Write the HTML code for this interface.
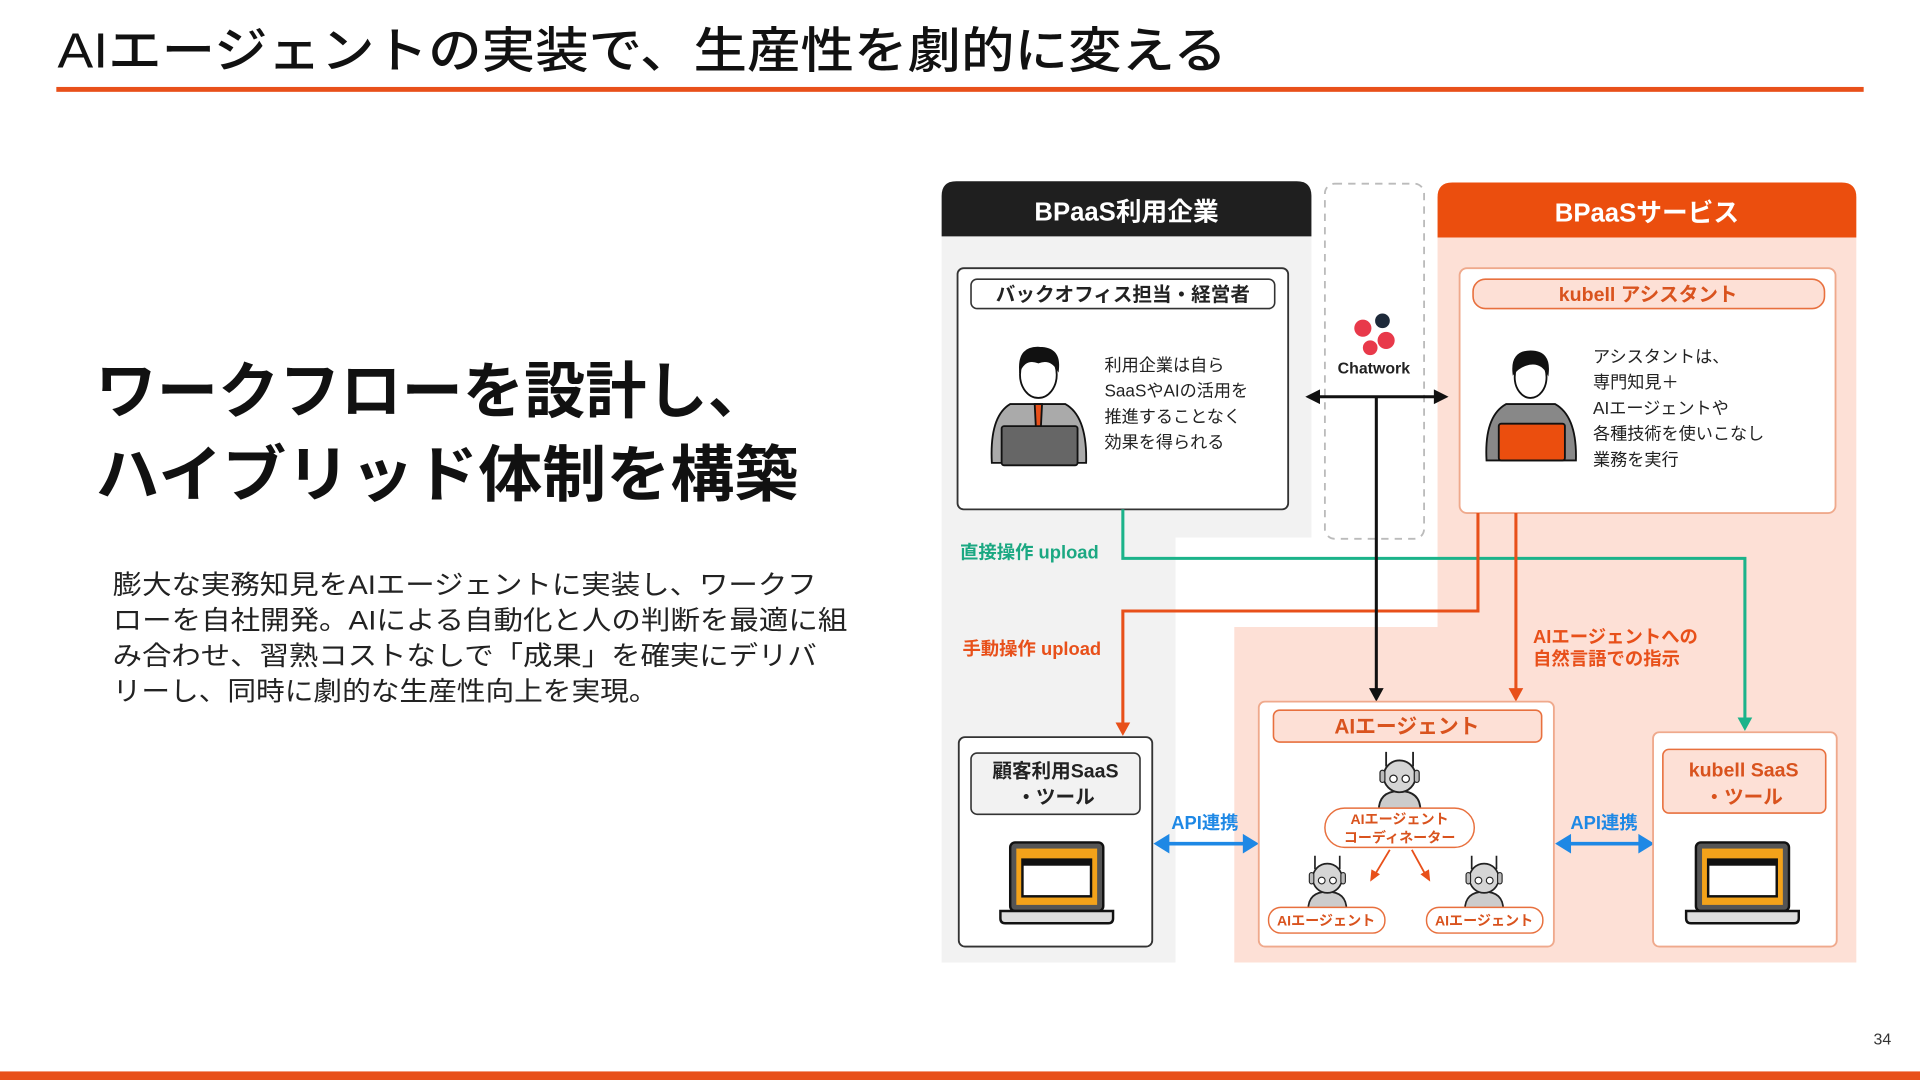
<!DOCTYPE html>
<html><head><meta charset="utf-8"><style>
html,body{margin:0;padding:0;background:#fff;}
svg{display:block;}
text{font-family:"Liberation Sans","Noto Sans CJK JP",sans-serif;}
</style></head><body>
<svg width="1920" height="1080" viewBox="0 0 1568 882" xmlns="http://www.w3.org/2000/svg">
<defs>
<symbol id="robot" viewBox="0 0 50 50">
  <line x1="14" y1="2" x2="14" y2="14" stroke="#222" stroke-width="1.5"/>
  <line x1="36" y1="2" x2="36" y2="14" stroke="#222" stroke-width="1.5"/>
  <path d="M8 50 Q8 34 25 34 Q42 34 42 50 Z" fill="#ccc" stroke="#222" stroke-width="1.5"/>
  <circle cx="25" cy="22" r="13" fill="#d5d5d5" stroke="#222" stroke-width="1.5"/>
  <rect x="9" y="17" width="4" height="10" rx="2" fill="#bbb" stroke="#222"/>
  <rect x="37" y="17" width="4" height="10" rx="2" fill="#bbb" stroke="#222"/>
  <circle cx="20" cy="24" r="3" fill="#fff" stroke="#222"/>
  <circle cx="30" cy="24" r="3" fill="#fff" stroke="#222"/>
</symbol>
<symbol id="laptop" viewBox="0 0 96 70">
  <rect x="10" y="2" width="76" height="56" rx="4" fill="#555" stroke="#111" stroke-width="2"/>
  <rect x="15" y="7" width="66" height="46" fill="#F3A21A"/>
  <rect x="20" y="16" width="56" height="30" fill="#fff" stroke="#111" stroke-width="2"/>
  <rect x="20" y="16" width="56" height="5" fill="#111"/>
  <path d="M2 58 H94 V64 Q94 68 90 68 H6 Q2 68 2 64 Z" fill="#ddd" stroke="#111" stroke-width="2"/>
</symbol>
</defs>

<!-- title -->
<text x="47" y="55" font-size="40" font-weight="500" fill="#111" textLength="955" lengthAdjust="spacingAndGlyphs">AIエージェントの実装で、生産性を劇的に変える</text>
<rect x="46" y="71" width="1476" height="4" fill="#E8501A"/>
<rect x="0" y="875" width="1568" height="7" fill="#E8501A"/>
<text x="1530" y="853" font-size="13" fill="#333">34</text>

<text x="78" y="337" font-size="50" font-weight="bold" fill="#111" textLength="550" lengthAdjust="spacingAndGlyphs">ワークフローを設計し、</text>
<text x="78" y="405" font-size="50" font-weight="bold" fill="#111" textLength="574" lengthAdjust="spacingAndGlyphs">ハイブリッド体制を構築</text>
<g font-size="22" fill="#222">
<text x="92" y="485" textLength="575" lengthAdjust="spacingAndGlyphs">膨大な実務知見をAIエージェントに実装し、ワークフ</text>
<text x="92" y="514" textLength="600" lengthAdjust="spacingAndGlyphs">ローを自社開発。AIによる自動化と人の判断を最適に組</text>
<text x="92" y="543" textLength="575" lengthAdjust="spacingAndGlyphs">み合わせ、習熟コストなしで「成果」を確実にデリバ</text>
<text x="92" y="572" textLength="445" lengthAdjust="spacingAndGlyphs">リーし、同時に劇的な生産性向上を実現。</text>
</g>

<!-- left panel -->
<polygon points="769,193 1071,193 1071,439 960,439 960,786 769,786" fill="#f2f2f2"/>
<path d="M769 193 V160 Q769 148 781 148 H1059 Q1071 148 1071 160 V193 Z" fill="#1f1f1f"/>
<text x="920" y="180" font-size="21" font-weight="bold" fill="#fff" text-anchor="middle">BPaaS利用企業</text>

<!-- right panel -->
<polygon points="1174,194 1516,194 1516,786 1008,786 1008,512 1174,512" fill="#FDE0D6"/>
<path d="M1174 194 V161 Q1174 149 1186 149 H1504 Q1516 149 1516 161 V194 Z" fill="#EB4E0E"/>
<text x="1345" y="181" font-size="21" font-weight="bold" fill="#fff" text-anchor="middle">BPaaSサービス</text>

<!-- dashed chatwork -->
<rect x="1082" y="150" width="81" height="290" rx="8" fill="#fff" stroke="#bbb" stroke-width="1.5" stroke-dasharray="6,5"/>
<circle cx="1113" cy="268" r="7" fill="#E8394A"/>
<circle cx="1129" cy="262" r="6" fill="#1e2a3a"/>
<circle cx="1132" cy="278" r="7" fill="#E8394A"/>
<circle cx="1119" cy="284" r="6" fill="#E8394A"/>
<text x="1122" y="305" font-size="13" font-weight="bold" fill="#222" text-anchor="middle">Chatwork</text>

<!-- left person box -->
<rect x="782" y="219" width="270" height="197" rx="5" fill="#fff" stroke="#333" stroke-width="1.5"/>
<rect x="793" y="228" width="248" height="24" rx="5" fill="#fff" stroke="#333" stroke-width="1.3"/>
<text x="917" y="246" font-size="16" font-weight="bold" fill="#222" text-anchor="middle">バックオフィス担当・経営者</text>
<g stroke="#111" stroke-width="1.5">
<path d="M810 378 Q808 340 825 330 L870 330 Q888 340 887 378 Z" fill="#aaa"/>
<ellipse cx="848" cy="306" rx="15" ry="19" fill="#fff"/>
<path d="M833 302 Q832 283 849 284 Q866 284 864 302 Q858 292 848 296 Q838 292 833 302Z" fill="#111"/>
<path d="M845 330 L851 330 L850 350 L846 350Z" fill="#E8501A"/>
<rect x="818" y="348" width="62" height="32" rx="2" fill="#666"/>
</g>
<g font-size="14" fill="#222">
<text x="902" y="303">利用企業は自ら</text>
<text x="902" y="324">SaaSやAIの活用を</text>
<text x="902" y="345">推進することなく</text>
<text x="902" y="366">効果を得られる</text>
</g>

<!-- right assistant box -->
<rect x="1192" y="219" width="307" height="200" rx="6" fill="#fff" stroke="#EFA98C" stroke-width="1.5"/>
<rect x="1203" y="228" width="287" height="24" rx="10" fill="#FDE0D6" stroke="#E8703E" stroke-width="1.3"/>
<text x="1346" y="246" font-size="16" font-weight="bold" fill="#D9531E" text-anchor="middle">kubell アシスタント</text>
<g stroke="#111" stroke-width="1.5">
<path d="M1214 376 Q1212 340 1230 330 L1270 330 Q1288 340 1287 376 Z" fill="#888"/>
<ellipse cx="1250" cy="308" rx="13" ry="17" fill="#fff"/>
<path d="M1236 305 Q1234 287 1250 287 Q1266 287 1264 305 Q1258 294 1246 298 Q1240 300 1236 305Z" fill="#111"/>
<rect x="1224" y="346" width="54" height="30" rx="2" fill="#EB4E0E"/>
</g>
<g font-size="14" fill="#222">
<text x="1301" y="296">アシスタントは、</text>
<text x="1301" y="317">専門知見＋</text>
<text x="1301" y="338">AIエージェントや</text>
<text x="1301" y="359">各種技術を使いこなし</text>
<text x="1301" y="380">業務を実行</text>
</g>

<!-- green connector -->
<polyline points="917,416 917,456 1425,456 1425,588" fill="none" stroke="#1BB38A" stroke-width="2.5"/>
<polygon points="1419,586 1431,586 1425,597" fill="#1BB38A"/>
<text x="784" y="456" font-size="15" font-weight="bold" fill="#1BA882">直接操作 upload</text>

<!-- orange connectors -->
<polyline points="1207,419 1207,499 917,499 917,592" fill="none" stroke="#E8501A" stroke-width="2.5"/>
<polygon points="911,590 923,590 917,601" fill="#E8501A"/>
<text x="786" y="535" font-size="15" font-weight="bold" fill="#E8501A">手動操作 upload</text>
<line x1="1238" y1="419" x2="1238" y2="564" stroke="#E8501A" stroke-width="2.5"/>
<polygon points="1232,562 1244,562 1238,573" fill="#E8501A"/>
<text x="1252" y="525" font-size="15" font-weight="bold" fill="#E8501A">AIエージェントへの</text>
<text x="1252" y="543" font-size="15" font-weight="bold" fill="#E8501A">自然言語での指示</text>

<!-- black connectors -->
<line x1="1075" y1="324" x2="1174" y2="324" stroke="#111" stroke-width="2.5"/>
<polygon points="1066,324 1078,318 1078,330" fill="#111"/>
<polygon points="1183,324 1171,318 1171,330" fill="#111"/>
<line x1="1124" y1="324" x2="1124" y2="564" stroke="#111" stroke-width="2.5"/>
<polygon points="1118,562 1130,562 1124,573" fill="#111"/>

<!-- customer SaaS -->
<rect x="783" y="602" width="158" height="171" rx="5" fill="#fff" stroke="#333" stroke-width="1.5"/>
<rect x="793" y="615" width="138" height="50" rx="5" fill="#f2f2f2" stroke="#333" stroke-width="1.3"/>
<text x="862" y="635" font-size="16" font-weight="bold" fill="#222" text-anchor="middle">顧客利用SaaS</text>
<text x="862" y="656" font-size="16" font-weight="bold" fill="#222" text-anchor="middle">・ツール</text>
<use href="#laptop" x="815" y="686" width="96" height="70"/>

<!-- API arrows -->
<line x1="952" y1="689" x2="1018" y2="689" stroke="#1E88E5" stroke-width="3"/>
<polygon points="942,689 955,681 955,697" fill="#1E88E5"/>
<polygon points="1028,689 1015,681 1015,697" fill="#1E88E5"/>
<text x="984" y="677" font-size="15" font-weight="bold" fill="#1E88E5" text-anchor="middle">API連携</text>
<line x1="1280" y1="689" x2="1341" y2="689" stroke="#1E88E5" stroke-width="3"/>
<polygon points="1270,689 1283,681 1283,697" fill="#1E88E5"/>
<polygon points="1351,689 1338,681 1338,697" fill="#1E88E5"/>
<text x="1310" y="677" font-size="15" font-weight="bold" fill="#1E88E5" text-anchor="middle">API連携</text>

<!-- AI agent box -->
<rect x="1028" y="573" width="241" height="200" rx="5" fill="#fff" stroke="#EFA98C" stroke-width="1.5"/>
<rect x="1040" y="580" width="219" height="26" rx="5" fill="#FDE0D6" stroke="#E8703E" stroke-width="1.3"/>
<text x="1149" y="599" font-size="17" font-weight="bold" fill="#D9531E" text-anchor="middle">AIエージェント</text>
<use href="#robot" x="1118" y="612" width="50" height="50"/>
<use href="#robot" x="1059" y="697" width="50" height="46"/>
<use href="#robot" x="1187" y="697" width="50" height="46"/>
<rect x="1082" y="660" width="122" height="32" rx="16" fill="#fff" stroke="#E8703E" stroke-width="1.2"/>
<text x="1143" y="673" font-size="11.5" font-weight="bold" fill="#D9531E" text-anchor="middle">AIエージェント</text>
<text x="1143" y="688" font-size="11.5" font-weight="bold" fill="#D9531E" text-anchor="middle">コーディネーター</text>
<line x1="1135" y1="694" x2="1123" y2="714" stroke="#E8501A" stroke-width="1.5"/>
<polygon points="1119,720 1120,710 1127,714" fill="#E8501A"/>
<line x1="1153" y1="694" x2="1164" y2="714" stroke="#E8501A" stroke-width="1.5"/>
<polygon points="1168,720 1160,714 1167,710" fill="#E8501A"/>
<rect x="1036" y="741" width="95" height="21" rx="10" fill="#fff" stroke="#E8703E" stroke-width="1.2"/>
<text x="1083" y="756" font-size="11.5" font-weight="bold" fill="#D9531E" text-anchor="middle">AIエージェント</text>
<rect x="1165" y="741" width="95" height="21" rx="10" fill="#fff" stroke="#E8703E" stroke-width="1.2"/>
<text x="1212" y="756" font-size="11.5" font-weight="bold" fill="#D9531E" text-anchor="middle">AIエージェント</text>

<!-- kubell SaaS -->
<rect x="1350" y="598" width="150" height="175" rx="5" fill="#fff" stroke="#EFA98C" stroke-width="1.5"/>
<rect x="1358" y="612" width="133" height="52" rx="5" fill="#FDE0D6" stroke="#E8703E" stroke-width="1.3"/>
<text x="1424" y="634" font-size="16" font-weight="bold" fill="#D9531E" text-anchor="middle">kubell SaaS</text>
<text x="1424" y="656" font-size="16" font-weight="bold" fill="#D9531E" text-anchor="middle">・ツール</text>
<use href="#laptop" x="1375" y="686" width="96" height="70"/>
</svg>
</body></html>
